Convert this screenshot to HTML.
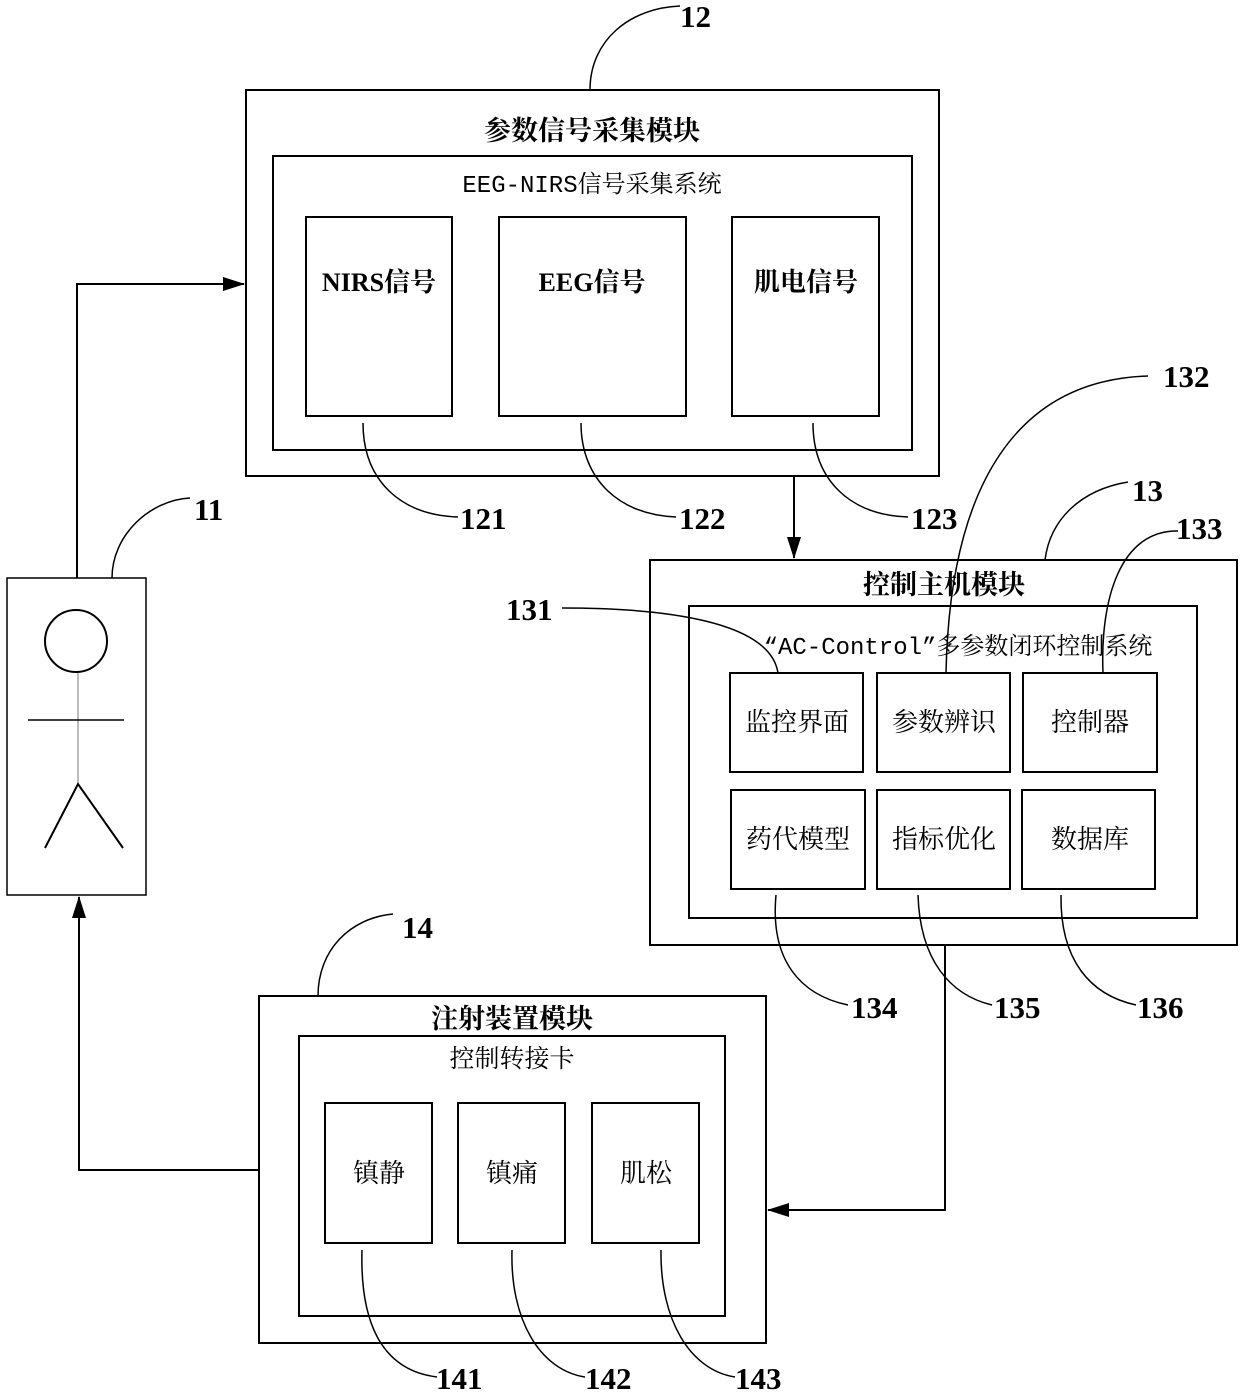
<!DOCTYPE html>
<html><head><meta charset="utf-8"><style>
html,body{margin:0;padding:0;background:#fff}
svg{display:block}
text{font-family:"Liberation Serif","Noto Serif CJK SC","Noto Sans CJK SC",serif;fill:#000}
.b{font-weight:bold}
.m{font-family:"Liberation Mono","Noto Serif CJK SC",monospace}
.n{font-family:"Liberation Serif",serif;font-weight:bold;font-size:31px}
</style></head><body>
<svg width="1240" height="1395" viewBox="0 0 1240 1395" xmlns="http://www.w3.org/2000/svg">
<defs><marker id="a" markerWidth="22" markerHeight="14" refX="21" refY="7" orient="auto" markerUnits="userSpaceOnUse"><path d="M0,0 L22,7 L0,14 z" fill="#000"/></marker></defs>
<g fill="none" stroke="#000" stroke-width="2">
<rect x="246" y="90" width="693" height="386"/>
<rect x="273" y="156" width="639" height="294"/>
<rect x="306" y="217" width="146" height="199"/>
<rect x="499" y="217" width="187" height="199"/>
<rect x="732" y="217" width="147" height="199"/>
<rect x="7" y="578" width="139" height="317" stroke-width="1.5"/>
<circle cx="76" cy="641" r="31"/>
<line x1="78" y1="673" x2="78" y2="784" stroke="#777" stroke-width="1"/>
<line x1="28" y1="720" x2="124" y2="720" stroke-width="1.5"/>
<path d="M45,848 L78,784 L123,848"/>
<rect x="650" y="560" width="587" height="385"/>
<rect x="689" y="606" width="508" height="312"/>
<rect x="730" y="673" width="133" height="99"/>
<rect x="877" y="673" width="133" height="99"/>
<rect x="1023" y="673" width="134" height="99"/>
<rect x="731" y="790" width="134" height="99"/>
<rect x="877" y="790" width="133" height="99"/>
<rect x="1022" y="790" width="133" height="99"/>
<rect x="259" y="996" width="507" height="347"/>
<rect x="299" y="1036" width="426" height="280"/>
<rect x="325" y="1103" width="107" height="140"/>
<rect x="458" y="1103" width="107" height="140"/>
<rect x="592" y="1103" width="107" height="140"/>
</g>
<g fill="none" stroke="#000" stroke-width="2">
<polyline points="77,578 77,284 244,284" marker-end="url(#a)"/>
<line x1="794" y1="476" x2="794" y2="558" marker-end="url(#a)"/>
<polyline points="945,945 945,1210 768,1210" marker-end="url(#a)"/>
<polyline points="259,1170 79,1170 79,897" marker-end="url(#a)"/>
</g>
<g fill="none" stroke="#000" stroke-width="1.5">
<path d="M590,90 C590,40 630,8 680,6"/>
<path d="M112,578 C112,535 150,500 190,498"/>
<path d="M363,423 C363,480 400,515 458,517"/>
<path d="M581,423 C581,480 620,515 676,517"/>
<path d="M813,423 C813,480 850,515 908,517"/>
<path d="M1045,560 C1050,520 1080,490 1128,482"/>
<path d="M1148,376 C1020,380 950,480 946,673"/>
<path d="M1178,531 C1120,530 1100,600 1103,673"/>
<path d="M562,608 C660,608 770,620 778,673"/>
<path d="M776,895 C770,960 800,995 848,1005"/>
<path d="M918,895 C920,960 950,995 992,1005"/>
<path d="M1061,895 C1060,960 1090,995 1136,1005"/>
<path d="M318,996 C318,950 350,918 393,914"/>
<path d="M362,1250 C360,1320 380,1370 437,1377"/>
<path d="M512,1250 C510,1320 540,1370 585,1377"/>
<path d="M661,1250 C660,1320 690,1370 735,1377"/>
</g>
<g font-size="25" text-anchor="middle">
<text x="592" y="140" class="b" font-size="27">参数信号采集模块</text>
<text x="592" y="192" class="m" font-size="24">EEG-NIRS信号采集系统</text>
<text x="379" y="291" class="b" font-size="26">NIRS信号</text>
<text x="592" y="291" class="b" font-size="26">EEG信号</text>
<text x="806" y="291" class="b" font-size="26">肌电信号</text>
<text x="944" y="594" class="b" font-size="27">控制主机模块</text>
<text x="958" y="654" class="m" font-size="24">“AC-Control”多参数闭环控制系统</text>
<text x="797" y="731" font-size="26">监控界面</text>
<text x="944" y="731" font-size="26">参数辨识</text>
<text x="1090" y="731" font-size="26">控制器</text>
<text x="798" y="848" font-size="26">药代模型</text>
<text x="944" y="848" font-size="26">指标优化</text>
<text x="1090" y="848" font-size="26">数据库</text>
<text x="512" y="1028" class="b" font-size="27">注射装置模块</text>
<text x="512" y="1067">控制转接卡</text>
<text x="379" y="1182" font-size="26">镇静</text>
<text x="512" y="1182" font-size="26">镇痛</text>
<text x="646" y="1182" font-size="26">肌松</text>
</g>
<g>
<text x="680" y="27" class="n">12</text>
<text x="194" y="520" class="n">11</text>
<text x="460" y="529" class="n">121</text>
<text x="679" y="529" class="n">122</text>
<text x="911" y="529" class="n">123</text>
<text x="1132" y="501" class="n">13</text>
<text x="1163" y="387" class="n">132</text>
<text x="1176" y="539" class="n">133</text>
<text x="506" y="620" class="n">131</text>
<text x="851" y="1018" class="n">134</text>
<text x="994" y="1018" class="n">135</text>
<text x="1137" y="1018" class="n">136</text>
<text x="402" y="938" class="n">14</text>
<text x="436" y="1389" class="n">141</text>
<text x="585" y="1389" class="n">142</text>
<text x="735" y="1389" class="n">143</text>
</g>
</svg>
</body></html>
